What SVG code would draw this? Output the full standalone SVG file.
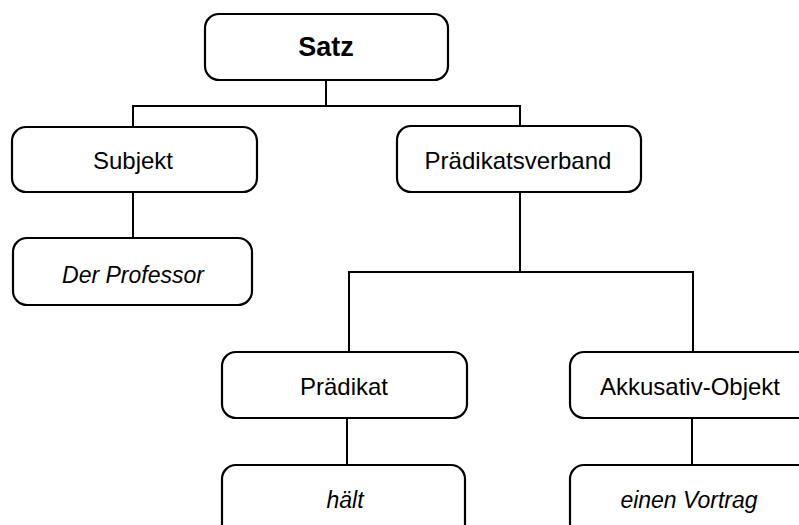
<svg xmlns="http://www.w3.org/2000/svg" width="799" height="525" viewBox="0 0 799 525">
<style>
.box{fill:#fff;stroke:#000;stroke-width:2.2}
.con{fill:none;stroke:#000;stroke-width:2}
text{font-family:"Liberation Sans",Arial,sans-serif;font-size:24px;fill:#000;text-anchor:middle}
.b{font-weight:bold;font-size:27px}
.i{font-style:italic;font-size:23px}
</style>
<rect width="799" height="525" fill="#fff"/>
<g id="connectors">
<path class="con" d="M326 80V106M133 127V106H520V127"/>
<path class="con" d="M133 192V238"/>
<path class="con" d="M520 192V272M349 352V272H693V352"/>
<path class="con" d="M347 418V465"/>
<path class="con" d="M692 418V465"/>
</g>
<g id="satz"><rect class="box" x="205" y="14" width="243" height="66" rx="14"/><text class="b" x="326" y="56">Satz</text></g>
<g id="subjekt"><rect class="box" x="12" y="127" width="245" height="65" rx="14"/><text x="133" y="169">Subjekt</text></g>
<g id="praedikatsverband"><rect class="box" x="397" y="126" width="244" height="66" rx="14"/><text x="518" y="169">Prädikatsverband</text></g>
<g id="der-professor"><rect class="box" x="13" y="238" width="239" height="67" rx="14"/><text class="i" x="133" y="283">Der Professor</text></g>
<g id="praedikat"><rect class="box" x="222" y="352" width="245" height="66" rx="14"/><text x="344" y="395">Prädikat</text></g>
<g id="akkusativ-objekt"><rect class="box" x="570" y="352" width="244" height="66" rx="14"/><text x="690" y="395">Akkusativ-Objekt</text></g>
<g id="haelt"><rect class="box" x="222" y="465" width="243" height="80" rx="14"/><text class="i" x="345" y="508">hält</text></g>
<g id="einen-vortrag"><rect class="box" x="570" y="465" width="244" height="80" rx="14"/><text class="i" x="689" y="508">einen Vortrag</text></g>
</svg>
